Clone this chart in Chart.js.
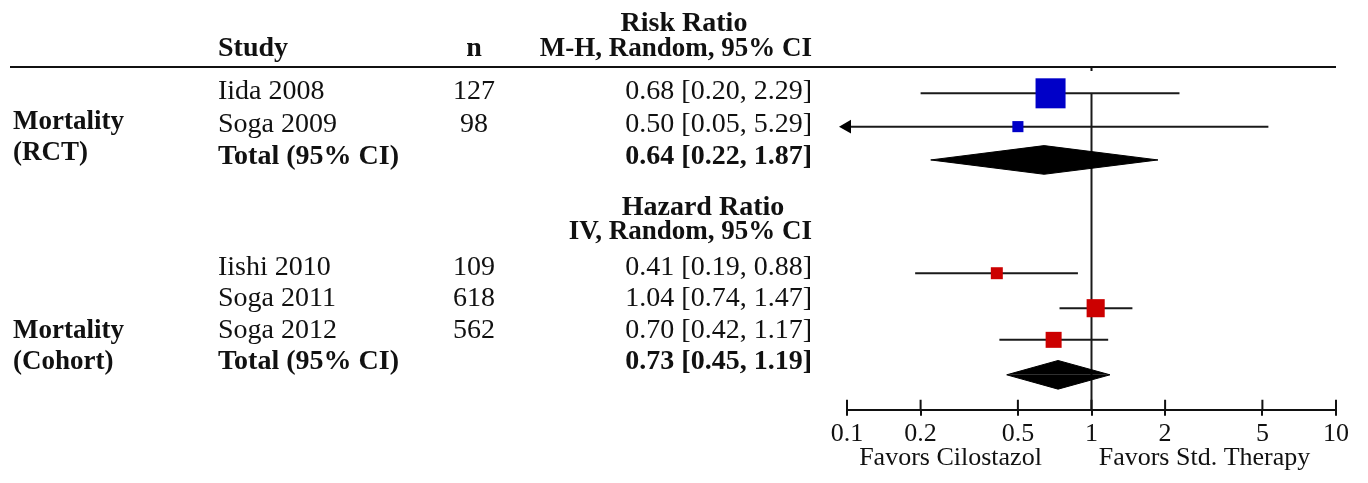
<!DOCTYPE html>
<html>
<head>
<meta charset="utf-8">
<script src="https://cdn.jsdelivr.net/npm/chart.js@4.4.1/dist/chart.umd.min.js"></script>
<style>
html, body { margin: 0; padding: 0; background: #fff; }
#wrap { width: 1368px; height: 483px; }
</style>
</head>
<body>
<div id="wrap"><canvas id="forest" width="1368" height="483"></canvas></div>
<script>
// ---- data ----
const rctStudies = ['Iida 2008', 'Soga 2009'];
const rctN = [127, 98];
const rctEst = [0.68, 0.50];
const rctLow = [0.20, 0.05];
const rctHigh = [2.29, 5.29];
const rctWeight = [88, 12];
const rctTotal = [0.64, 0.22, 1.87];

const cohortStudies = ['Iishi 2010', 'Soga 2011', 'Soga 2012'];
const cohortN = [109, 618, 562];
const cohortEst = [0.41, 1.04, 0.70];
const cohortLow = [0.19, 0.74, 0.42];
const cohortHigh = [0.88, 1.47, 1.17];
const cohortWeight = [14, 32, 25];
const cohortTotal = [0.73, 0.45, 1.19];

const tickValues = [0.1, 0.2, 0.5, 1, 2, 5, 10];

// ---- layout (row units on the hidden y scale) ----
const AXIS_MIN = 0.1;
const AXIS_MAX = 10;
const rctRows = [0, 1];
const rctTotalRow = 2;
const cohortRows = [5.4, 6.45, 7.4];
const cohortTotalRow = 8.45;
const DIAMOND_HALF = 0.43;
const BOX_SCALE = 3.2;

const FONT = '"Liberation Serif", "Times New Roman", serif';
const INK = '#111';

function fmt(e, l, h){
    return e.toFixed(2) + ' [' + l.toFixed(2) + ', ' + h.toFixed(2) + ']';
}

function ciLine(lo, hi, row){
    const clipped = lo < AXIS_MIN;
    return {
        data: [{x: Math.max(lo, AXIS_MIN), y: row}, {x: Math.min(hi, AXIS_MAX), y: row}],
        borderColor: '#1a1a1a',
        borderWidth: 2,
        pointStyle: 'triangle',
        pointRotation: -90,
        pointRadius: [clipped ? 8 : 0, 0],
        pointBackgroundColor: '#000',
        pointBorderColor: '#000',
        pointBorderWidth: 0,
        fill: false,
        clip: false,
        order: 2
    };
}

function diamondHalf(total, row, dir){
    return {
        data: [{x: total[1], y: row}, {x: total[0], y: row + dir * DIAMOND_HALF}, {x: total[2], y: row}],
        borderColor: '#000',
        backgroundColor: '#000',
        borderWidth: 1,
        pointRadius: 0,
        fill: {value: row},
        clip: false,
        order: 1
    };
}

function boxes(est, weight, rows, color){
    return {
        data: est.map((e, i) => ({x: e, y: rows[i]})),
        showLine: false,
        pointStyle: 'rect',
        pointRadius: weight.map(w => BOX_SCALE * Math.sqrt(w) / Math.SQRT2),
        pointBackgroundColor: color,
        pointBorderWidth: 0,
        clip: false,
        order: 0
    };
}

var datasets = []
datasets.push(boxes(rctEst, rctWeight, rctRows, '#0000c8'))
datasets.push(boxes(cohortEst, cohortWeight, cohortRows, '#cc0000'))
datasets.push(diamondHalf(rctTotal, rctTotalRow, -1))
datasets.push(diamondHalf(rctTotal, rctTotalRow, 1))
datasets.push(diamondHalf(cohortTotal, cohortTotalRow, -1))
datasets.push(diamondHalf(cohortTotal, cohortTotalRow, 1))
for (var i = 0; i < rctStudies.length; i++){
    datasets.push(ciLine(rctLow[i], rctHigh[i], rctRows[i]))
}
for (var i = 0; i < cohortStudies.length; i++){
    datasets.push(ciLine(cohortLow[i], cohortHigh[i], cohortRows[i]))
}
// line of no effect
datasets.push({
    data: [{x: 1, y: 0}, {x: 1, y: 9.5}],
    borderColor: '#1a1a1a',
    borderWidth: 2,
    pointRadius: 0,
    fill: false,
    order: 3
})

// text rows sit a little above the marker rows in the original
const textRows = {
    riskRatio: -2.12, head: -1.37, headerLine: -0.79,
    rct: [-0.08, 0.9], rctTotal: 1.86, rctGroup: [0.82, 1.77],
    hazard: 3.42, iv: 4.14,
    cohort: [5.21, 6.14, 7.1], cohortTotal: 8.03, cohortGroup: [7.1, 8.03]
};

const COL_GROUP = 13;
const COL_STUDY = 218;
const COL_N = 474;
const COL_CI = 812;

const tablePlugin = {
    id: 'forestTable',
    afterDraw(chart){
        const ctx = chart.ctx;
        const xs = chart.scales.x;
        const ys = chart.scales.y;
        const area = chart.chartArea;
        const rowY = r => ys.getPixelForValue(r) + 1;

        function put(text, x, row, align, bold, size){
            ctx.font = (bold ? 'bold ' : '') + (size || 28) + 'px ' + FONT;
            ctx.textAlign = align;
            ctx.textBaseline = 'middle';
            ctx.fillText(text, x, rowY(row));
        }

        ctx.save();
        ctx.fillStyle = INK;

        // column headers
        put('Risk Ratio', 684, textRows.riskRatio, 'center', true);
        put('Study', COL_STUDY, textRows.head, 'left', true);
        put('n', COL_N, textRows.head, 'center', true);
        put('M-H, Random, 95% CI', COL_CI, textRows.head, 'right', true, 27);

        // header rule
        const hy = ys.getPixelForValue(textRows.headerLine);
        ctx.strokeStyle = '#111';
        ctx.lineWidth = 2;
        ctx.beginPath();
        ctx.moveTo(10, hy);
        ctx.lineTo(area.right, hy);
        ctx.moveTo(xs.getPixelForValue(1), hy);
        ctx.lineTo(xs.getPixelForValue(1), hy + 4);
        ctx.stroke();

        // RCT block
        put('Mortality', COL_GROUP, textRows.rctGroup[0], 'left', true, 27);
        put('(RCT)', COL_GROUP, textRows.rctGroup[1], 'left', true, 27);
        for (var i = 0; i < rctStudies.length; i++){
            put(rctStudies[i], COL_STUDY, textRows.rct[i], 'left', false);
            put(String(rctN[i]), COL_N, textRows.rct[i], 'center', false);
            put(fmt(rctEst[i], rctLow[i], rctHigh[i]), COL_CI, textRows.rct[i], 'right', false);
        }
        put('Total (95% CI)', COL_STUDY, textRows.rctTotal, 'left', true);
        put(fmt(rctTotal[0], rctTotal[1], rctTotal[2]), COL_CI, textRows.rctTotal, 'right', true);

        // cohort block
        put('Hazard Ratio', 703, textRows.hazard, 'center', true);
        put('IV, Random, 95% CI', COL_CI, textRows.iv, 'right', true, 27);
        put('Mortality', COL_GROUP, textRows.cohortGroup[0], 'left', true, 27);
        put('(Cohort)', COL_GROUP, textRows.cohortGroup[1], 'left', true, 27);
        for (var i = 0; i < cohortStudies.length; i++){
            put(cohortStudies[i], COL_STUDY, textRows.cohort[i], 'left', false);
            put(String(cohortN[i]), COL_N, textRows.cohort[i], 'center', false);
            put(fmt(cohortEst[i], cohortLow[i], cohortHigh[i]), COL_CI, textRows.cohort[i], 'right', false);
        }
        put('Total (95% CI)', COL_STUDY, textRows.cohortTotal, 'left', true);
        put(fmt(cohortTotal[0], cohortTotal[1], cohortTotal[2]), COL_CI, textRows.cohortTotal, 'right', true);

        // upper half of the axis ticks
        ctx.beginPath();
        for (const v of tickValues){
            const x = xs.getPixelForValue(v);
            ctx.moveTo(x, area.bottom - 10);
            ctx.lineTo(x, area.bottom);
        }
        ctx.stroke();

        // favours labels
        const nullX = xs.getPixelForValue(1);
        ctx.font = '26px ' + FONT;
        ctx.textAlign = 'center';
        ctx.textBaseline = 'alphabetic';
        ctx.fillText('Favors Cilostazol', nullX - 141, area.bottom + 55);
        ctx.fillText('Favors Std. Therapy', nullX + 113, area.bottom + 55);
        ctx.restore();
    }
};

new Chart(document.getElementById('forest'), {
    type: 'line',
    data: {datasets: datasets},
    options: {
        responsive: false,
        animation: false,
        events: [],
        layout: {padding: {left: 847, right: 32, top: 60, bottom: 30}},
        elements: {line: {tension: 0}},
        plugins: {legend: {display: false}, tooltip: {enabled: false}},
        scales: {
            x: {
                type: 'logarithmic',
                min: AXIS_MIN,
                max: AXIS_MAX,
                afterBuildTicks: axis => { axis.ticks = tickValues.map(v => ({value: v})) },
                ticks: {
                    callback: v => String(v),
                    autoSkip: false,
                    maxRotation: 0,
                    padding: 3,
                    color: '#111',
                    font: {family: FONT, size: 26}
                },
                grid: {drawOnChartArea: false, drawTicks: true, tickLength: 6, color: '#111', lineWidth: 2},
                border: {display: true, color: '#111', width: 2}
            },
            y: {
                type: 'linear',
                reverse: true,
                min: -1,
                max: 9.5,
                display: false
            }
        }
    },
    plugins: [tablePlugin]
});
</script>
</body>
</html>
